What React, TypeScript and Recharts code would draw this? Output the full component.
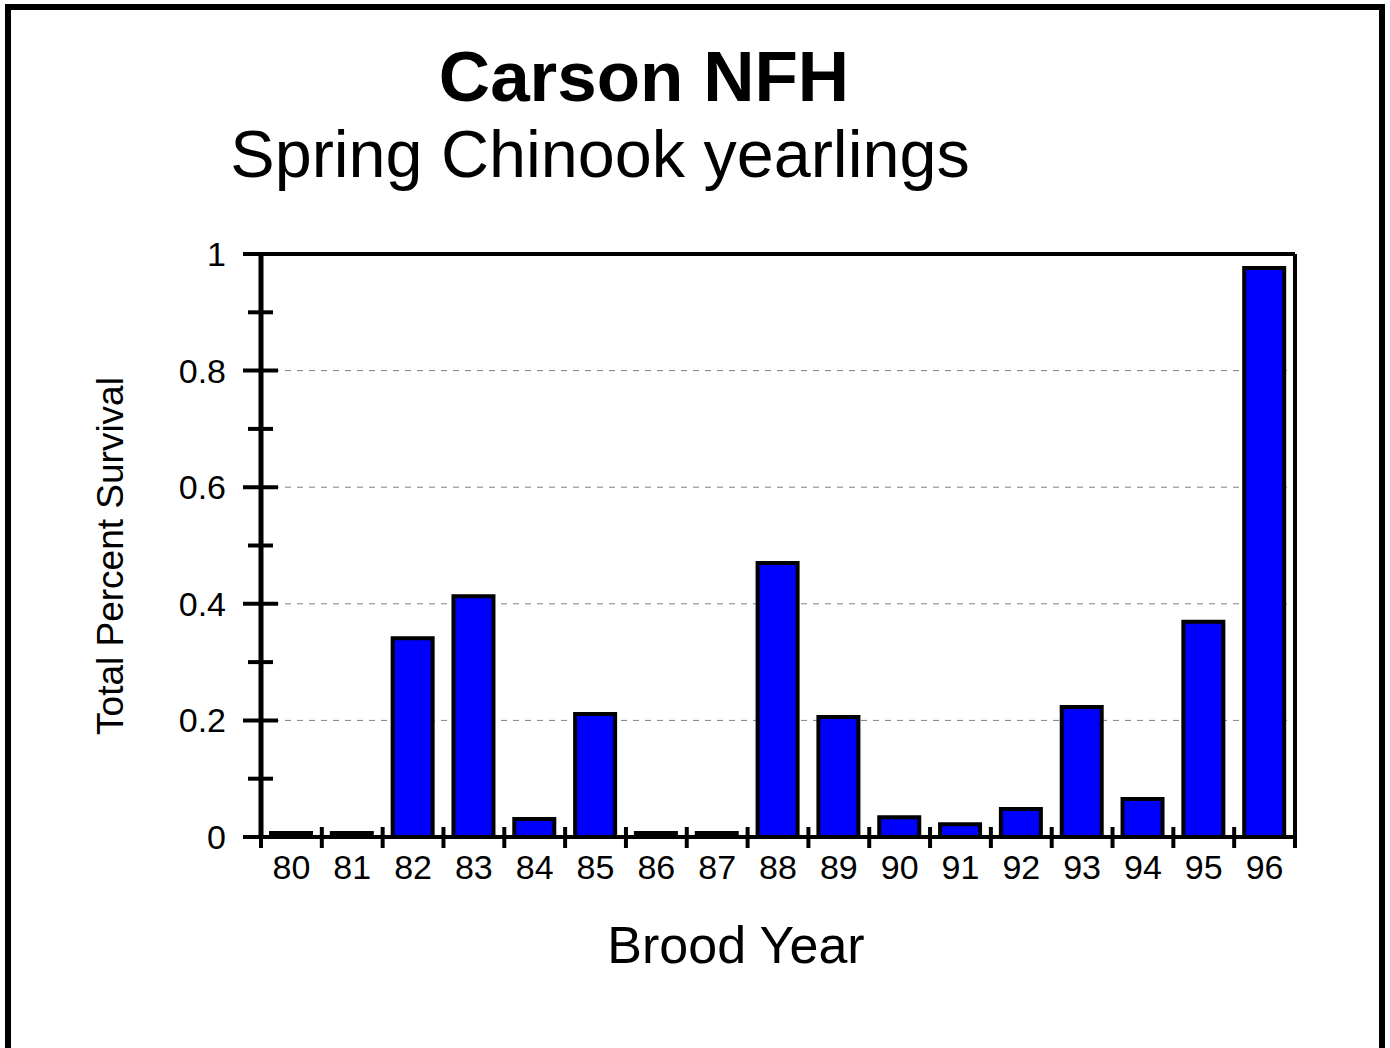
import {
  Bar,
  BarChart,
  CartesianGrid,
  ReferenceLine,
  XAxis,
  YAxis,
} from "recharts";

const broodYears = ["80", "81", "82", "83", "84", "85", "86", "87", "88", "89", "90", "91", "92", "93", "94", "95", "96"];
const survival = [0, 0, 0.341, 0.413, 0.031, 0.211, 0, 0, 0.47, 0.206, 0.034, 0.022, 0.048, 0.223, 0.065, 0.369, 0.976];
const yTicks = [0, 0.1, 0.2, 0.3, 0.4, 0.5, 0.6, 0.7, 0.8, 0.9, 1];
const yTickLabels = ["0", "", "0.2", "", "0.4", "", "0.6", "", "0.8", "", "1"];
const gridValues = [0.2, 0.4, 0.6, 0.8];

const data = broodYears.map((year, i) => ({ year, value: survival[i] }));

const W = 1390;
const H = 1048;
const PLOT_LEFT = 261;
const PLOT_RIGHT = 1295;
const PLOT_BOTTOM = 837;
const PLOT_TOP = 254;
const Y_AXIS_W = 60;
const X_AXIS_H = 60;
const CAT_W = (PLOT_RIGHT - PLOT_LEFT) / broodYears.length;
const FONT = "Arial, 'Liberation Sans', sans-serif";

function YTick(props: any) {
  const { y, index } = props;
  const major = index % 2 === 0;
  return (
    <g>
      <line
        x1={PLOT_LEFT - (major ? 18 : 13)}
        x2={PLOT_LEFT + (major ? 17 : 12)}
        y1={y}
        y2={y}
        stroke="#000"
        strokeWidth={4}
      />
      {major && (
        <text x={PLOT_LEFT - 35} y={y + 12} textAnchor="end" fontSize={34} fill="#000" fontFamily={FONT}>
          {yTickLabels[index]}
        </text>
      )}
    </g>
  );
}

function XTick(props: any) {
  const { x, index, payload } = props;
  const last = index === broodYears.length - 1;
  return (
    <g>
      <line x1={x - CAT_W / 2} x2={x - CAT_W / 2} y1={PLOT_BOTTOM - 10} y2={PLOT_BOTTOM + 11} stroke="#000" strokeWidth={4} />
      {last && (
        <line x1={x + CAT_W / 2} x2={x + CAT_W / 2} y1={PLOT_BOTTOM - 10} y2={PLOT_BOTTOM + 11} stroke="#000" strokeWidth={4} />
      )}
      <text x={x} y={PLOT_BOTTOM + 42} textAnchor="middle" fontSize={34} fill="#000" fontFamily={FONT}>
        {payload.value}
      </text>
    </g>
  );
}

export default function App() {
  return (
    <div
      style={{
        position: "absolute",
        left: 0,
        top: 0,
        width: W,
        height: H,
        overflow: "hidden",
        background: "#fff",
        fontFamily: FONT,
      }}
    >
      <div
        style={{
          position: "absolute",
          left: 5,
          top: 4,
          width: 1368,
          height: H + 20,
          border: "6px solid #000",
        }}
      />
      <BarChart
        width={W}
        height={H}
        data={data}
        margin={{
          top: PLOT_TOP,
          right: W - PLOT_RIGHT - 1,
          bottom: H - PLOT_BOTTOM - X_AXIS_H,
          left: PLOT_LEFT - Y_AXIS_W,
        }}
      >
        <CartesianGrid vertical={false} horizontalValues={gridValues} stroke="#808080" strokeDasharray="6 6" />
        <XAxis
          dataKey="year"
          height={X_AXIS_H}
          axisLine={{ stroke: "#000", strokeWidth: 4 }}
          tickLine={false}
          tick={<XTick />}
          interval={0}
        />
        <YAxis
          width={Y_AXIS_W}
          domain={[0, 1]}
          ticks={yTicks}
          interval={0}
          axisLine={{ stroke: "#000", strokeWidth: 5 }}
          tickLine={false}
          tick={<YTick />}
        />
        <YAxis
          yAxisId="right"
          orientation="right"
          width={1}
          domain={[0, 1]}
          tick={false}
          tickLine={false}
          axisLine={{ stroke: "#000", strokeWidth: 4 }}
        />
        <ReferenceLine y={1} stroke="#000" strokeWidth={4} />
        <Bar
          dataKey="value"
          fill="#0000ff"
          stroke="#000"
          strokeWidth={4}
          barSize={40}
          minPointSize={4}
          isAnimationActive={false}
        />
      </BarChart>
      <svg width={W} height={H} style={{ position: "absolute", left: 0, top: 0, pointerEvents: "none" }}>
        <text x={644} y={101} textAnchor="middle" fontSize={71} fontWeight="bold" fill="#000" fontFamily={FONT}>
          Carson NFH
        </text>
        <text x={600} y={177} textAnchor="middle" fontSize={66.5} fill="#000" fontFamily={FONT}>
          Spring Chinook yearlings
        </text>
        <text
          x={0}
          y={0}
          transform="translate(123 556) rotate(-90)"
          textAnchor="middle"
          fontSize={37}
          fill="#000"
          fontFamily={FONT}
        >
          Total Percent Survival
        </text>
        <text x={736} y={963} textAnchor="middle" fontSize={52} fill="#000" fontFamily={FONT}>
          Brood Year
        </text>
      </svg>
    </div>
  );
}
